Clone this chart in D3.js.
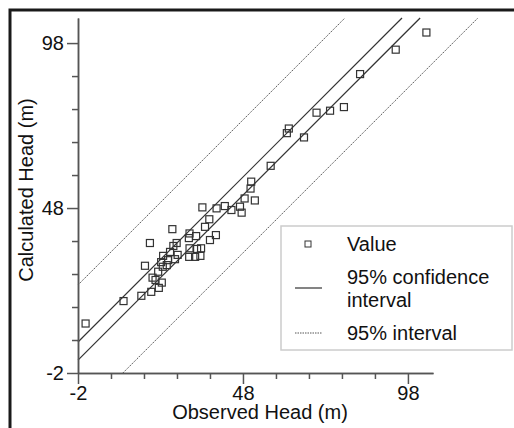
<!DOCTYPE html>
<html lang="en">
<head>
  <meta charset="UTF-8">
  <title>Observed vs Calculated Head</title>
  <style>
    body { margin: 0; background: white; }
    svg { display: block; font-family: Arial, "Liberation Sans", sans-serif; }
  </style>
  <script src="https://d3js.org/d3.v7.min.js"></script>
</head>
<body>
  <div id="chart"></div>
  <script>
    // observed / calculated heads (m)
    const observed = [103.6, 94.3, 83.5, 78.6, 74.4, 70.3, 61.9, 61.3, 66.5, 56.4,
      50.5, 50.3, 51.6, 48.5, 47.1, 47.6, 44.5, 42.5, 40.0, 35.7,
      37.8, 36.5, 39.8, 38.0, 26.6, 31.8, 33.8, 31.6, 19.8, 27.9,
      26.9, 31.8, 34.1, 35.3, 25.9, 31.7, 33.5, 35.1, 28.2, 23.8,
      27.4, 25.3, 23.2, 18.3, 24.9, 23.7, 22.3, 20.6, 21.5, 23.4,
      22.5, 20.2, 17.2, 11.8, 0.3];
    const calculated = [101.2, 96.0, 88.6, 78.6, 77.5, 76.9, 72.1, 70.7, 69.4, 60.8,
      56.0, 53.9, 50.3, 50.9, 48.4, 46.6, 47.4, 48.6, 47.9, 48.2,
      44.6, 42.3, 39.8, 38.3, 41.6, 40.3, 39.5, 38.9, 37.4, 37.4,
      36.5, 35.8, 35.6, 35.8, 34.7, 33.2, 33.2, 33.5, 33.8, 33.5,
      32.5, 32.2, 31.6, 30.5, 30.7, 30.2, 28.7, 26.9, 26.2, 25.4,
      23.8, 22.6, 21.4, 19.8, 13.0];

    // interval lines: y = x + offset
    const confidenceOffsets = [9.4, 3.9];
    const intervalOffsets = [26.7, -13.6];

    const majorTicks = [-2, 48, 98];
    const minorTicks = [8, 18, 28, 38, 58, 68, 78, 88];
    const legendLabels = ["Value", "95% confidence", "interval", "95% interval"];

    const width = 514, height = 428;
    const lo = -2, hi = 105.6;

    const svg = d3.select("#chart").append("svg")
      .attr("width", width)
      .attr("height", height);

    svg.append("rect").attr("width", width).attr("height", height).attr("fill", "white");

    // outer frame, only top and left visible
    svg.append("rect")
      .attr("x", 10).attr("y", 10)
      .attr("width", 540).attr("height", 440)
      .attr("fill", "none")
      .attr("stroke", "#1a1a1a")
      .attr("stroke-width", 3);

    const x = d3.scaleLinear().domain([lo, hi]).range([78, 433]);
    const y = d3.scaleLinear().domain([lo, hi]).range([373, 18]);

    // lines
    const lineGen = d3.line().x(d => x(d[0])).y(d => y(d[1]));
    function segment(off) {
      const x0 = Math.max(lo, lo - off);
      return [[x0, x0 + off], [hi - off, hi]];
    }

    svg.selectAll(".ci")
      .data(confidenceOffsets)
      .enter().append("path")
      .attr("class", "ci")
      .attr("d", d => lineGen(segment(d)))
      .attr("fill", "none")
      .attr("stroke", "#333")
      .attr("stroke-width", 1.2);

    svg.selectAll(".pi")
      .data(intervalOffsets)
      .enter().append("path")
      .attr("class", "pi")
      .attr("d", d => lineGen(segment(d)))
      .attr("fill", "none")
      .attr("stroke", "#555")
      .attr("stroke-width", 1)
      .attr("stroke-dasharray", "1.5,1");

    // points
    const pts = observed.map((o, i) => [o, calculated[i]]);
    svg.selectAll(".pt")
      .data(pts)
      .enter().append("rect")
      .attr("class", "pt")
      .attr("x", d => x(d[0]) - 3.5)
      .attr("y", d => y(d[1]) - 3.5)
      .attr("width", 7)
      .attr("height", 7)
      .attr("fill", "none")
      .attr("stroke", "#333")
      .attr("stroke-width", 1.2);

    // axes
    function styleAxis(g) {
      g.selectAll("path, line").attr("stroke", "#555").attr("stroke-width", 1.5);
      g.selectAll("text").attr("fill", "#111").style("font-size", "20px");
    }
    const fmt = d => String(d);

    svg.append("g")
      .attr("transform", "translate(78,0)")
      .call(d3.axisLeft(y).tickValues(minorTicks).tickSize(6).tickSizeOuter(0).tickFormat(""))
      .call(styleAxis);
    svg.append("g")
      .attr("transform", "translate(78,0)")
      .call(d3.axisLeft(y).tickValues(majorTicks).tickSize(11).tickSizeOuter(0).tickPadding(3).tickFormat(fmt))
      .call(styleAxis);

    svg.append("g")
      .attr("transform", "translate(0,373)")
      .call(d3.axisBottom(x).tickValues(minorTicks).tickSize(6).tickSizeOuter(0).tickFormat(""))
      .call(styleAxis);
    svg.append("g")
      .attr("transform", "translate(0,373)")
      .call(d3.axisBottom(x).tickValues(majorTicks).tickSize(11).tickSizeOuter(0).tickPadding(2).tickFormat(fmt))
      .call(styleAxis);

    // axis titles
    svg.append("text")
      .attr("x", 260).attr("y", 419)
      .attr("text-anchor", "middle")
      .style("font-size", "20px")
      .attr("fill", "#111")
      .text("Observed Head (m)");

    svg.append("text")
      .attr("transform", "translate(33,190) rotate(-90)")
      .attr("text-anchor", "middle")
      .style("font-size", "20px")
      .attr("fill", "#111")
      .text("Calculated Head (m)");

    // legend
    const legend = svg.append("g");
    legend.append("rect")
      .attr("x", 281).attr("y", 226)
      .attr("width", 231).attr("height", 124)
      .attr("fill", "white")
      .attr("stroke", "#ccc")
      .attr("stroke-width", 1.5);

    legend.append("rect")
      .attr("x", 305).attr("y", 241)
      .attr("width", 6).attr("height", 6)
      .attr("fill", "none").attr("stroke", "#333").attr("stroke-width", 1);
    legend.append("line")
      .attr("x1", 295).attr("x2", 322).attr("y1", 288).attr("y2", 288)
      .attr("stroke", "#333").attr("stroke-width", 1.2);
    legend.append("line")
      .attr("x1", 295).attr("x2", 322).attr("y1", 333).attr("y2", 333)
      .attr("stroke", "#555").attr("stroke-width", 1).attr("stroke-dasharray", "1.5,1");

    const legendY = [244, 277, 300, 333];
    legend.selectAll(".lt")
      .data(legendLabels)
      .enter().append("text")
      .attr("class", "lt")
      .attr("x", 347)
      .attr("y", (d, i) => legendY[i])
      .attr("dy", "0.35em")
      .style("font-size", "20px")
      .attr("fill", "#111")
      .text(d => d);
  </script>
</body>
</html>
